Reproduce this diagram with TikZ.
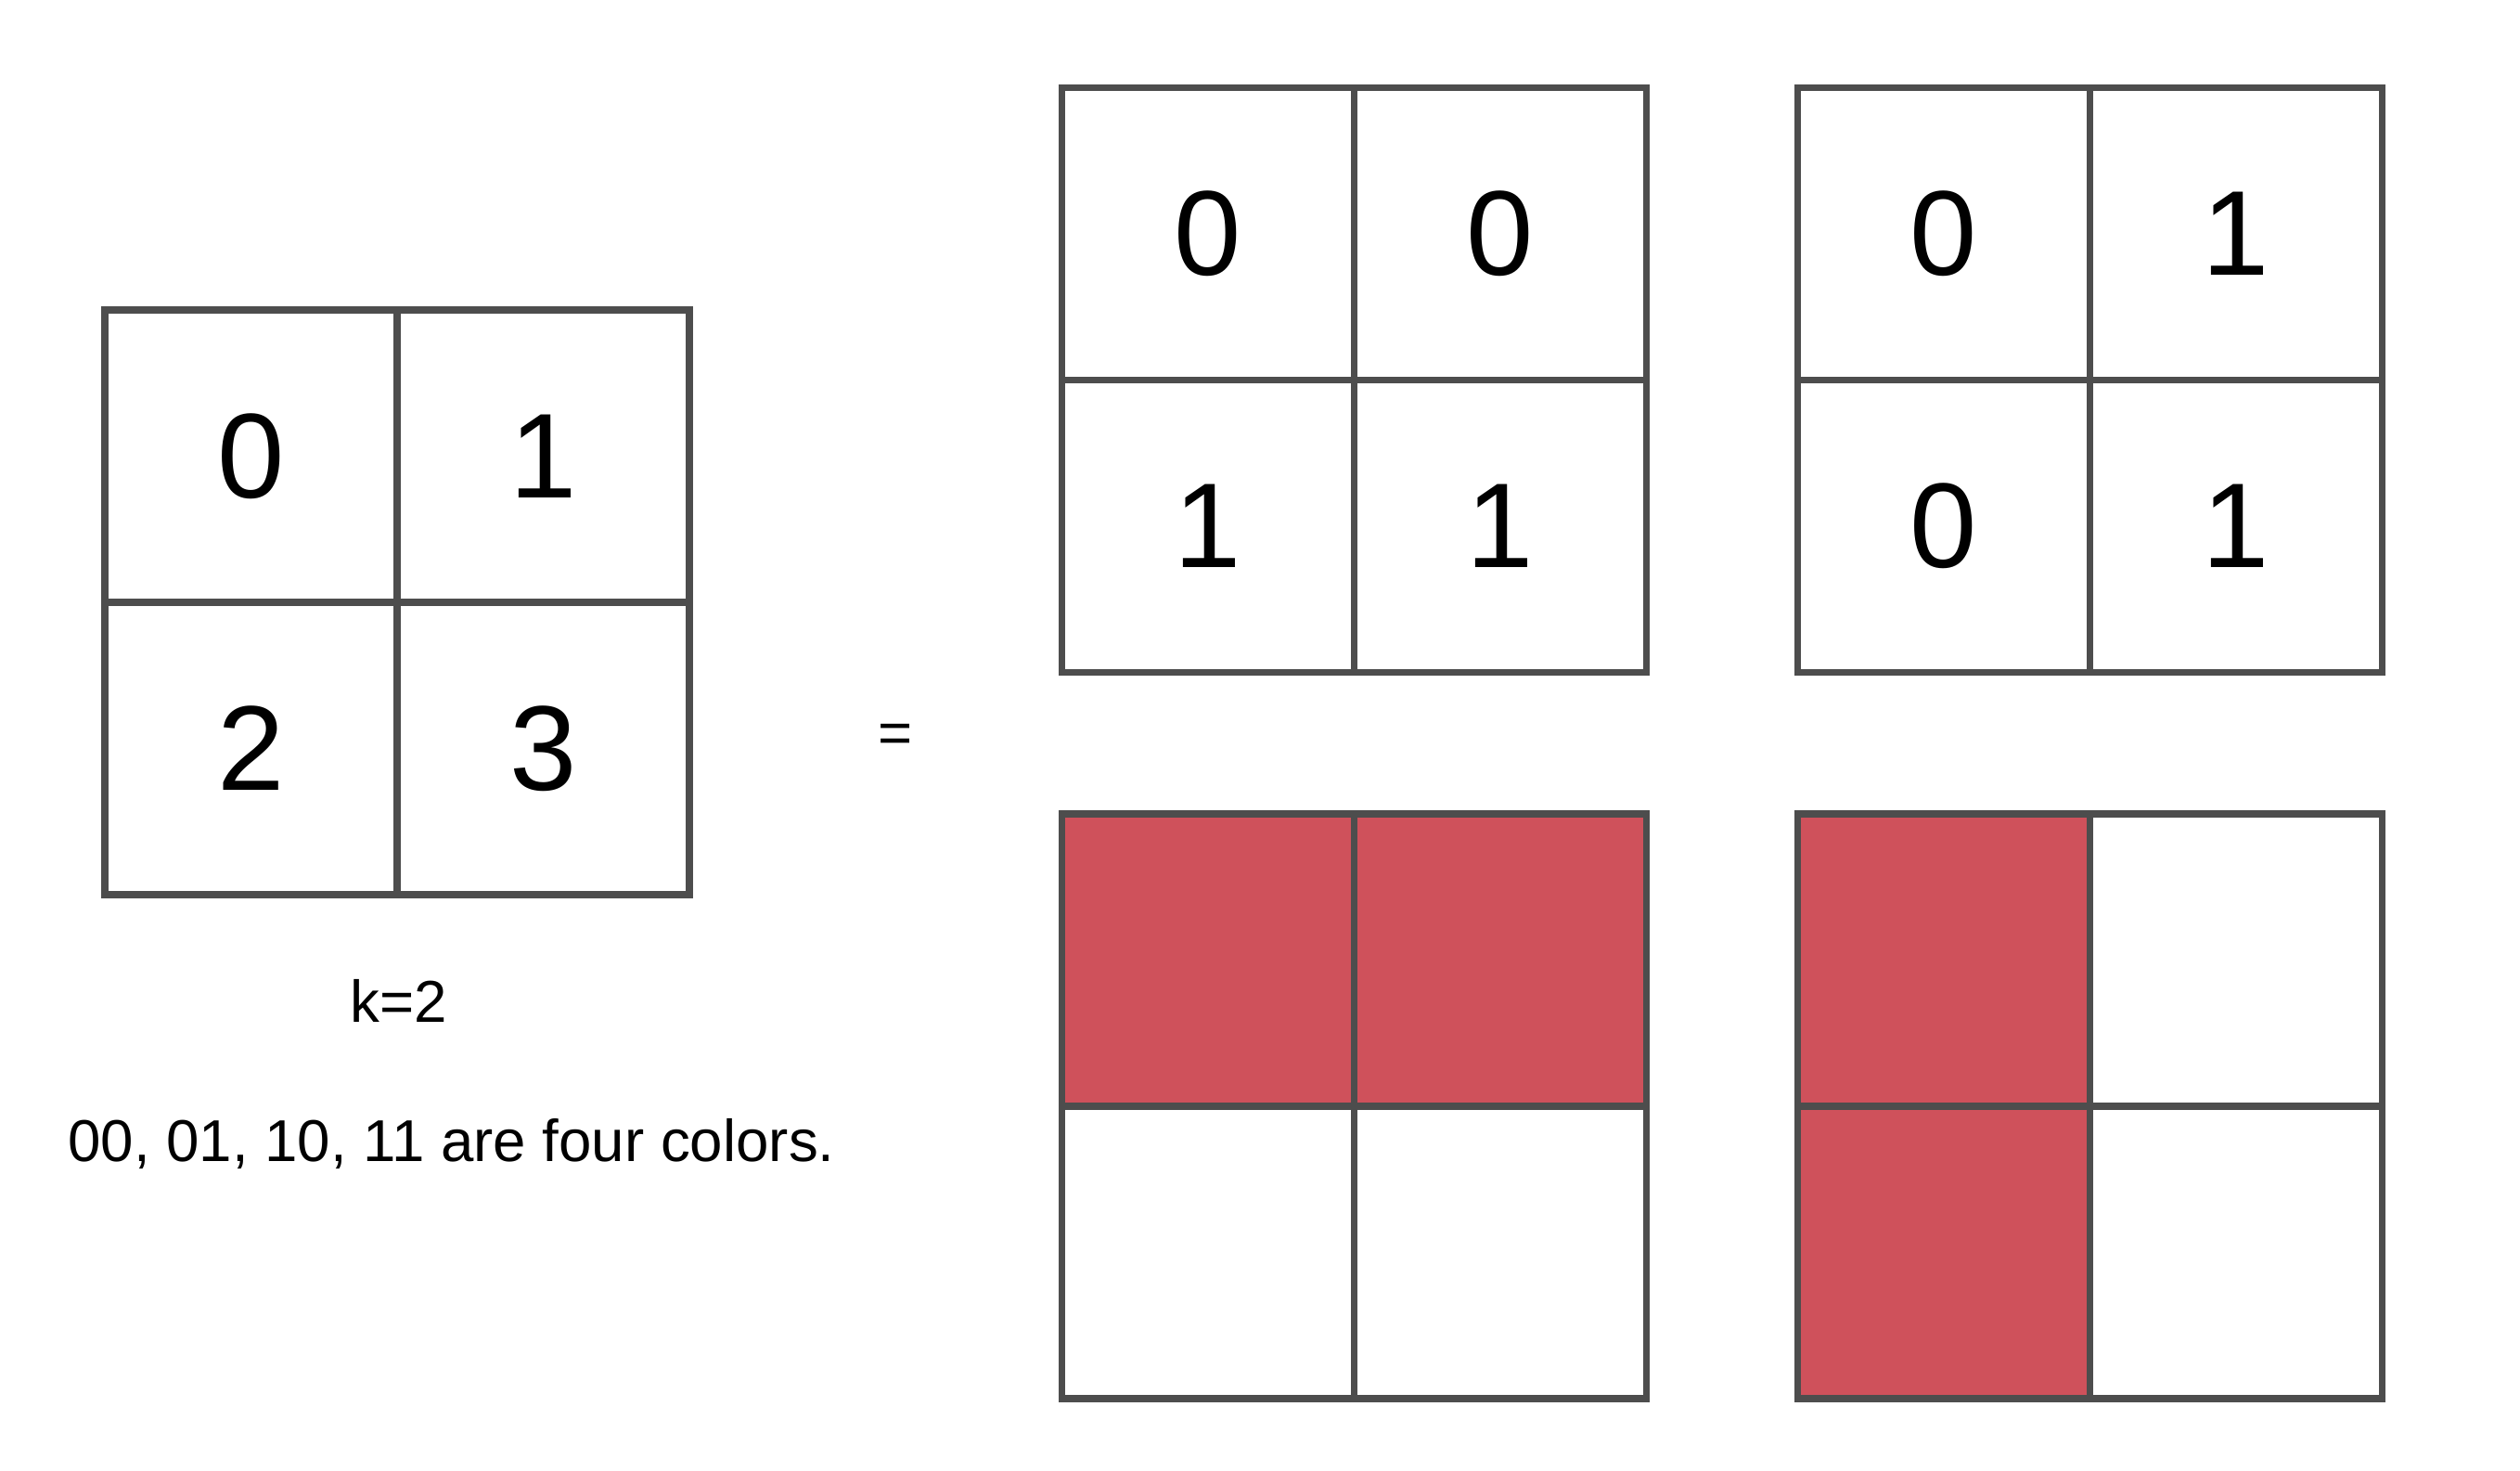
\documentclass[tikz,border=0pt]{standalone}
\usepackage{fontspec}
\setmainfont{Liberation Sans}
\usepackage{tikz}
\usetikzlibrary{calc,positioning}
\definecolor{gridgray}{RGB}{77,77,77}
\definecolor{cellred}{RGB}{207,81,91}

\begin{document}
\begin{tikzpicture}[cell/.style={draw=gridgray, line width=2pt, minimum size=3.15cm, inner sep=0pt, font=\fontsize{37}{44}\selectfont},
  red cell/.style={cell, fill=cellred},
  label text/.style={font=\fontsize{18.1}{22}\selectfont, inner sep=0pt}]
\useasboundingbox (0,0) rectangle (27.16,15.84);
% k=2 grid
\node[cell] (L0) at (2.705,10.925) {0};
\node[cell] (L1) at (5.855,10.925) {1};
\node[cell] (L2) at (2.705,7.775) {2};
\node[cell] (L3) at (5.855,7.775) {3};
\node[label text, anchor=base] (k) at (4.295,4.83) {k=2};
\node[label text, anchor=base] (colors) at (4.865,3.33) {00, 01, 10, 11 are four colors.};
\node[label text] (eq) at (9.65,7.88) {=};
% high bits
\node[cell] (A0) at (13.02,13.32) {0};
\node[cell] (A1) at (16.17,13.32) {0};
\node[cell] (A2) at (13.02,10.17) {1};
\node[cell] (A3) at (16.17,10.17) {1};
% low bits
\node[cell] (B0) at (20.945,13.32) {0};
\node[cell] (B1) at (24.095,13.32) {1};
\node[cell] (B2) at (20.945,10.17) {0};
\node[cell] (B3) at (24.095,10.17) {1};
% colored versions
\node[red cell] (C0) at (13.02,5.495) {};
\node[red cell] (C1) at (16.17,5.495) {};
\node[cell] (C2) at (13.02,2.345) {};
\node[cell] (C3) at (16.17,2.345) {};
\node[red cell] (D0) at (20.945,5.495) {};
\node[cell] (D1) at (24.095,5.495) {};
\node[red cell] (D2) at (20.945,2.345) {};
\node[cell] (D3) at (24.095,2.345) {};
\end{tikzpicture}
\end{document}
